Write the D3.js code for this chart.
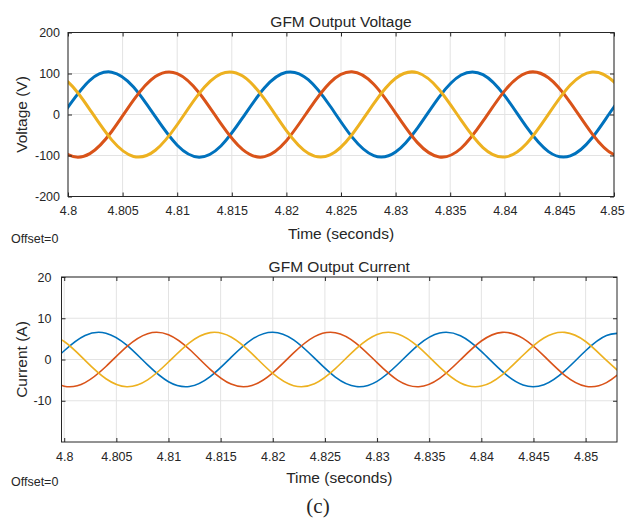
<!DOCTYPE html>
<html>
<head>
<meta charset="utf-8">
<script src="https://cdn.jsdelivr.net/npm/d3@7"></script>
<style>
  body { margin: 0; background: #fff; }
  svg text { font-family: "Liberation Sans", Arial, sans-serif; fill: #262626; }
</style>
</head>
<body>
<svg id="chart" width="625" height="518"></svg>
<script>
// ---- data ----
// voltage sampled every 2 ms from 4.798 to 4.852 (ends lie outside the clip)
let timeV = [4.798, 4.800, 4.802, 4.804, 4.806, 4.808, 4.810, 4.812, 4.814, 4.816, 4.818,
             4.820, 4.822, 4.824, 4.826, 4.828, 4.830, 4.832, 4.834, 4.836, 4.838,
             4.840, 4.842, 4.844, 4.846, 4.848, 4.850, 4.852];
let voltA = [-56.8, 18.2, 83.4, 103.3, 67.3, -5.3, -74.9, -104.0, -76.7, -7.8, 65.3,
             103.0, 84.9, 20.7, -54.7, -100.4, -91.7, -33.3, 43.1, 96.2, 97.2,
             45.4, -30.9, -90.5, -101.0, -56.8, 18.2, 83.4];
let voltB = [-47.1, -97.8, -95.5, -41.5, 35.1, 92.6, 99.9, 53.1, -22.5, -85.9, -102.8,
             -63.9, 9.6, 77.9, 104.0, 73.7, 3.5, -68.6, -103.5, -82.3, -16.4,
             58.3, 101.5, 89.6, 29.2, -47.1, -97.8, -95.5];
let voltC = [103.8, 79.5, 12.1, -61.9, -102.3, -87.3, -25.0, 50.9, 99.2, 93.7, 37.4,
             -39.1, -94.5, -98.6, -49.3, 26.7, 88.3, 102.0, 60.4, -13.9, -80.7,
             -103.7, -70.5, 0.9, 71.9, 103.8, 79.5, 12.1];

// current sampled every 2 ms from 4.798 to 4.854
let timeI = [4.798, 4.800, 4.802, 4.804, 4.806, 4.808, 4.810, 4.812, 4.814, 4.816,
             4.818, 4.820, 4.822, 4.824, 4.826, 4.828, 4.830, 4.832, 4.834, 4.836,
             4.838, 4.840, 4.842, 4.844, 4.846, 4.848, 4.850, 4.852, 4.854];
let currA = [-2.74, 2.12, 5.82, 6.37, 3.47, -1.32, -5.39, -6.54, -4.14, 0.50,
             4.87, 6.60, 4.76, 0.33, -4.27, -6.56, -5.29, -1.16, 3.60, 6.41,
             5.74, 1.96, -2.88, -6.17, -6.11, -2.74, 2.12, 5.82, 6.37];
let currB = [-3.83, -6.47, -5.60, -1.70, 3.13, 6.26, 6.00, 2.48, -2.38, -5.95,
             -6.29, -3.23, 1.59, 5.54, 6.49, 3.93, -0.77, -5.05, -6.59, -4.56,
             -0.06, 4.48, 6.58, 5.12, 0.88, -3.83, -6.47, -5.60, -1.70];
let currC = [6.57, 4.36, -0.22, -4.67, -6.60, -4.94, -0.61, 4.05, 6.52, 5.45,
             1.43, -3.37, -6.34, -5.88, -2.22, 2.63, 6.06, 6.21, 2.99, -1.85,
             -5.69, -6.44, -3.70, 1.04, 5.22, 6.57, 4.36, -0.22, -4.67];

let xTicksV = [4.8, 4.805, 4.81, 4.815, 4.82, 4.825, 4.83, 4.835, 4.84, 4.845, 4.85];
let xTicksI = [4.8, 4.805, 4.81, 4.815, 4.82, 4.825, 4.83, 4.835, 4.84, 4.845, 4.85];
let yTicksV = [-200, -100, 0, 100, 200];
let yTicksI = [-10, 0, 10, 20];

let phaseColors = ["#0072BD", "#D95319", "#EDB120"];

let svg = d3.select("#chart");
svg.append("rect").attr("width", 625).attr("height", 518).attr("fill", "#fff");

// draws one scope panel
function drawPanel(opt) {
  let x = d3.scaleLinear().domain(opt.xDomain).range([opt.left, opt.right]);
  let y = d3.scaleLinear().domain(opt.yDomain).range([opt.bottom, opt.top]);
  let g = svg.append("g");

  // grid
  g.append("g").selectAll("line").data(opt.xTicks).join("line")
    .attr("x1", d => x(d)).attr("x2", d => x(d))
    .attr("y1", opt.top).attr("y2", opt.bottom)
    .attr("stroke", "#e3e3e3").attr("stroke-width", 1);
  g.append("g").selectAll("line").data(opt.yTicks).join("line")
    .attr("x1", opt.left).attr("x2", opt.right)
    .attr("y1", d => y(d)).attr("y2", d => y(d))
    .attr("stroke", "#e3e3e3").attr("stroke-width", 1);

  // lines
  let clipId = "clip-" + opt.name;
  g.append("clipPath").attr("id", clipId).append("rect")
    .attr("x", opt.left).attr("y", opt.top)
    .attr("width", opt.right - opt.left).attr("height", opt.bottom - opt.top);

  let line = d3.line()
    .x((d, i) => x(opt.time[i]))
    .y(d => y(d))
    .curve(d3.curveNatural);

  g.append("g").attr("clip-path", "url(#" + clipId + ")")
    .selectAll("path").data(opt.series).join("path")
    .attr("d", d => line(d))
    .attr("fill", "none")
    .attr("stroke", (d, i) => phaseColors[i])
    .attr("stroke-width", opt.lineWidth);

  // axes, ticks pointing inwards on all four sides
  let xFmt = d => String(+d.toFixed(3));
  let yFmt = d => String(d);   // plain hyphen minus like the scope
  let xb = g.append("g").attr("transform", "translate(0," + opt.bottom + ")")
    .call(d3.axisBottom(x).tickValues(opt.xTicks).tickSize(-4).tickPadding(10).tickFormat(xFmt))
    .call(a => a.select(".domain").remove());
  // keep a label that sits on the right border inside the page
  xb.selectAll(".tick text").attr("dx", d => x(d) > 605 ? -2 : 0);
  g.append("g").attr("transform", "translate(0," + opt.top + ")")
    .call(d3.axisTop(x).tickValues(opt.xTicks).tickSize(-4).tickFormat(""))
    .call(a => a.select(".domain").remove());
  g.append("g").attr("transform", "translate(" + opt.left + ",0)")
    .call(d3.axisLeft(y).tickValues(opt.yTicks).tickSize(-4).tickPadding(opt.yPad).tickFormat(yFmt))
    .call(a => a.select(".domain").remove());
  g.append("g").attr("transform", "translate(" + opt.right + ",0)")
    .call(d3.axisRight(y).tickValues(opt.yTicks).tickSize(-4).tickFormat(""))
    .call(a => a.select(".domain").remove());

  g.selectAll(".tick line").attr("stroke", "#262626");
  g.selectAll(".tick text").attr("font-size", 12.5).attr("fill", "#262626")
    .style("font-family", '"Liberation Sans", Arial, sans-serif');

  // box
  g.append("rect")
    .attr("x", opt.left).attr("y", opt.top)
    .attr("width", opt.right - opt.left).attr("height", opt.bottom - opt.top)
    .attr("fill", "none").attr("stroke", "#262626").attr("stroke-width", 1);

  // texts
  let cx = (opt.left + opt.right) / 2;
  g.append("text").attr("x", cx).attr("y", opt.titleY)
    .attr("text-anchor", "middle").attr("font-size", 15.5).text(opt.title);
  g.append("text").attr("x", cx).attr("y", opt.xLabelY)
    .attr("text-anchor", "middle").attr("font-size", 15.5).text("Time (seconds)");
  g.append("text")
    .attr("transform", "translate(27," + ((opt.top + opt.bottom) / 2) + ") rotate(-90)")
    .attr("text-anchor", "middle").attr("font-size", 15.5).text(opt.yLabel);
  g.append("text").attr("x", 11).attr("y", opt.offsetY)
    .attr("font-size", 12.5).text("Offset=0");
}

drawPanel({
  name: "volt",
  left: 68, right: 614, top: 32.5, bottom: 196.5,
  xDomain: [4.8, 4.85], yDomain: [-200, 200],
  xTicks: xTicksV, yTicks: yTicksV, yPad: 8,
  time: timeV, series: [voltA, voltB, voltC], lineWidth: 3,
  title: "GFM Output Voltage", yLabel: "Voltage (V)",
  titleY: 27, xLabelY: 238.5, offsetY: 242.5
});

drawPanel({
  name: "curr",
  left: 61.5, right: 617, top: 277, bottom: 442,
  xDomain: [4.79974, 4.85301], yDomain: [-20, 20],
  xTicks: xTicksI, yTicks: yTicksI, yPad: 10,
  time: timeI, series: [currA, currB, currC], lineWidth: 1.6,
  title: "GFM Output Current", yLabel: "Current (A)",
  titleY: 271.5, xLabelY: 483, offsetY: 485.5
});

svg.append("text").attr("x", 318).attr("y", 513)
  .attr("text-anchor", "middle").attr("font-size", 21)
  .style("font-family", '"Liberation Serif", "Times New Roman", serif')
  .text("(c)");
</script>
</body>
</html>
